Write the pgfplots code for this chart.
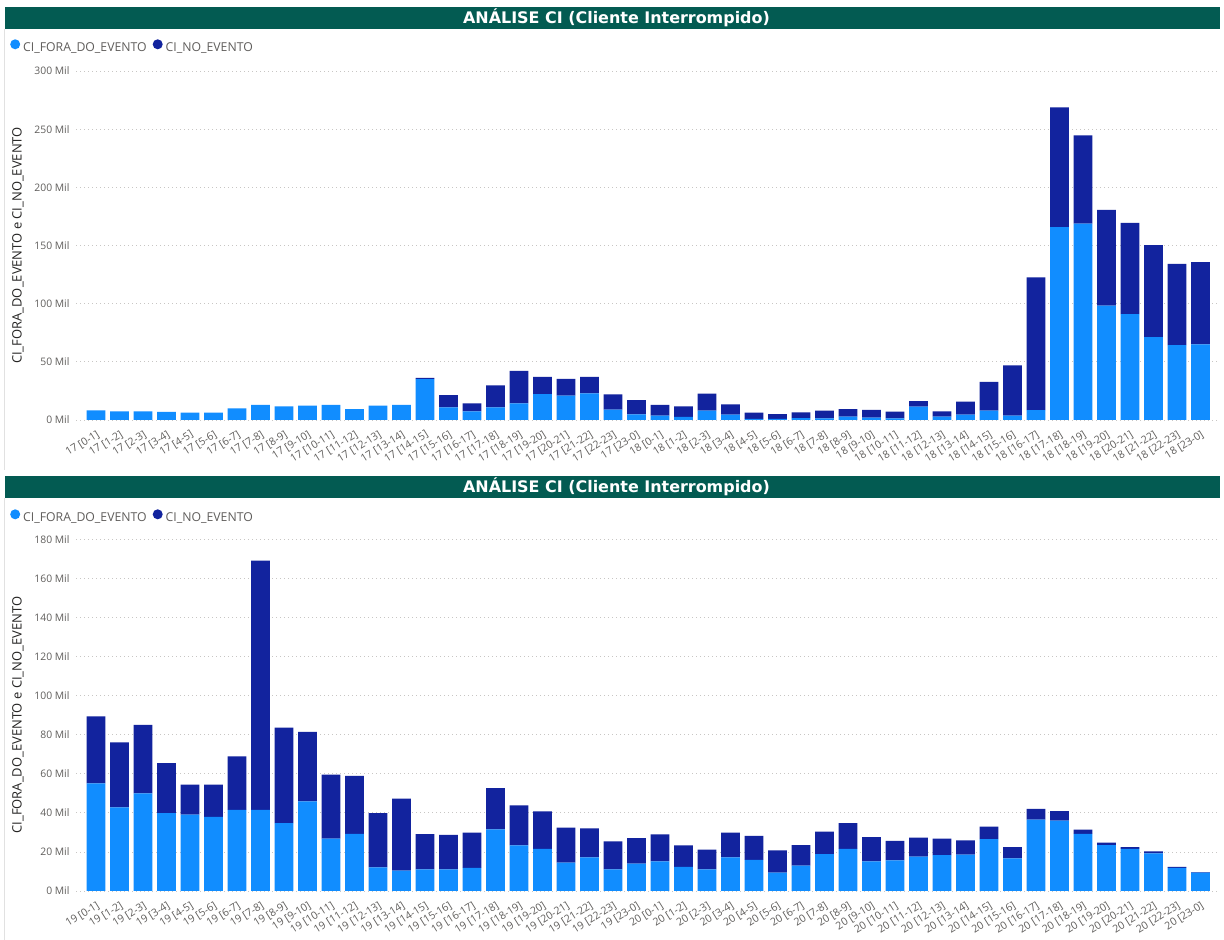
\documentclass[border=0pt]{standalone}
\usepackage{fontspec}
\setmainfont{Open Sans}
\newfontfamily\titlefont{DejaVu Sans}
\usepackage{pgfplots}
\usepackage{pgfplotstable}
\pgfplotsset{compat=1.18}
\definecolor{cfora}{HTML}{118DFF}
\definecolor{cno}{HTML}{12239E}
\definecolor{tgreen}{HTML}{035B52}
\definecolor{tickc}{HTML}{605E5C}
\definecolor{labc}{HTML}{252423}
\definecolor{gridc}{HTML}{C8C6C4}
\definecolor{framec}{HTML}{E1E1E1}

\pgfplotstableread{
x fora no
0 8.3 0
1 7.5 0
2 7.5 0
3 6.9 0
4 6.3 0
5 6.3 0
6 10.0 0
7 12.9 0
8 11.7 0
9 12.3 0
10 12.9 0
11 9.4 0
12 12.3 0
13 13.1 0
14 35.1 1.2
15 10.9 10.5
16 7.4 6.9
17 10.9 18.8
18 14.3 28.0
19 22.3 14.8
20 20.9 14.5
21 22.9 14.2
22 8.9 13.1
23 4.9 12.2
24 3.7 9.4
25 2.6 9.1
26 8.0 14.6
27 4.6 8.8
28 0.9 5.4
29 0.9 4.2
30 1.7 4.9
31 1.4 6.6
32 2.8 6.6
33 2.0 6.8
34 1.4 5.7
35 11.4 4.8
36 2.8 4.6
37 4.6 11.1
38 8.0 24.8
39 3.7 43.3
40 8.5 114.0
41 165.8 102.9
42 168.7 76.0
43 98.3 82.3
44 90.9 78.6
45 71.2 79.2
46 64.4 69.8
47 65.0 70.6
}\topdata

\pgfplotstableread{
x fora no
0 55.1 34.3
1 42.8 33.3
2 50.0 35.0
3 39.8 25.7
4 39.1 15.3
5 37.9 16.5
6 41.5 27.4
7 41.5 127.6
8 34.8 48.8
9 45.9 35.5
10 26.8 32.7
11 29.2 29.7
12 12.1 27.7
13 10.4 36.9
14 11.1 18.0
15 11.1 17.6
16 11.8 18.1
17 31.6 21.0
18 23.4 20.4
19 21.5 19.3
20 14.5 17.9
21 17.2 14.9
22 11.1 14.3
23 14.0 13.0
24 15.2 13.8
25 12.3 11.1
26 11.1 10.1
27 17.2 12.7
28 15.9 12.3
29 9.4 11.4
30 13.0 10.5
31 18.9 11.5
32 21.5 13.3
33 15.2 12.4
34 15.7 9.9
35 17.6 9.7
36 18.4 8.4
37 18.6 7.3
38 26.6 6.3
39 16.7 5.8
40 36.5 5.5
41 36.0 4.9
42 29.3 2.1
43 23.5 1.2
44 21.5 1.0
45 19.3 1.0
46 11.8 0.5
47 9.4 0.3
}\botdata

\pgfplotsset{
  pbi/.style={
    scale only axis,
    width=1142bp,
    xmin=-0.85, xmax=47.75,
    ymin=0,
    ybar stacked,
    bar width=0.8,
    axis line style={draw=none},
    major tick length=0pt,
    ymajorgrids,
    major grid style={gridc, line width=0.8bp, dash pattern=on 1bp off 3bp},
    xtick={0,...,47},
    /pgf/number format/assume math mode=true,
    yticklabel={\pgfmathprintnumber{\tick} Mil},
    yticklabel style={font=\fontsize{10.4}{12}\selectfont, text=tickc, xshift=-3bp},
    xticklabel style={font=\fontsize{10.6}{12}\selectfont, text=tickc, rotate=32, anchor=north east, inner sep=0bp, yshift=-8bp, xshift=-5bp},
    ylabel={CI\_FORA\_DO\_EVENTO e CI\_NO\_EVENTO},
    ylabel style={font=\fontsize{13}{15}\selectfont, text=labc, at={(axis description cs:-0.0508,0.5)}, anchor=center},
    legend style={draw=none, fill=none, font=\fontsize{12.3}{14}\selectfont, text=tickc, legend columns=-1, inner sep=0pt,
      /tikz/every odd column/.append style={column sep=1bp},
      /tikz/every even column/.append style={column sep=4bp}},
    legend cell align=left,
  }
}

\begin{document}
\begin{tikzpicture}
\useasboundingbox (0,0) rectangle (1224bp,940bp);
\fill[white] (0,0) rectangle (1224bp,940bp);
% frame lines
\draw[framec, line width=1bp] (4bp,470bp) -- (4bp,911bp);
\draw[framec, line width=1bp] (4bp,0bp) -- (4bp,442bp);
% title bars
\fill[tgreen] (5bp,911bp) rectangle (1220bp,933bp);
\node[font=\titlefont\bfseries\fontsize{16}{18}\selectfont, text=white] at (616.5bp,922bp) {ANÁLISE CI (Cliente Interrompido)};
\fill[tgreen] (5bp,442bp) rectangle (1220bp,464bp);
\node[font=\titlefont\bfseries\fontsize{16}{18}\selectfont, text=white] at (616.5bp,453bp) {ANÁLISE CI (Cliente Interrompido)};

\begin{axis}[pbi,
  at={(76bp,520bp)}, anchor=south west,
  height=349bp, ymax=300, ytick={0,50,...,300},
  xticklabels={17 [0-1],17 [1-2],17 [2-3],17 [3-4],17 [4-5],17 [5-6],17 [6-7],17 [7-8],17 [8-9],17 [9-10],17 [10-11],17 [11-12],17 [12-13],17 [13-14],17 [14-15],17 [15-16],17 [16-17],17 [17-18],17 [18-19],17 [19-20],17 [20-21],17 [21-22],17 [22-23],17 [23-0],18 [0-1],18 [1-2],18 [2-3],18 [3-4],18 [4-5],18 [5-6],18 [6-7],18 [7-8],18 [8-9],18 [9-10],18 [10-11],18 [11-12],18 [12-13],18 [13-14],18 [14-15],18 [15-16],18 [16-17],18 [17-18],18 [18-19],18 [19-20],18 [20-21],18 [21-22],18 [22-23],18 [23-0]},
  legend style={at={(axis description cs:-0.0578,1.0688)}, anchor=west},
]
\addplot[fill=cfora, draw=none, legend image code/.code={\fill[cfora] (0bp,0.6ex) circle (5bp);}] table[x=x, y=fora] {\topdata};
\addlegendentry{CI\_FORA\_DO\_EVENTO}
\addplot[fill=cno, draw=none, legend image code/.code={\fill[cno] (0bp,0.6ex) circle (5bp);}] table[x=x, y=no] {\topdata};
\addlegendentry{CI\_NO\_EVENTO}
\end{axis}

\begin{axis}[pbi,
  at={(76bp,49bp)}, anchor=south west,
  height=351.7bp, ymax=180, ytick={0,20,...,180},
  xticklabels={19 [0-1],19 [1-2],19 [2-3],19 [3-4],19 [4-5],19 [5-6],19 [6-7],19 [7-8],19 [8-9],19 [9-10],19 [10-11],19 [11-12],19 [12-13],19 [13-14],19 [14-15],19 [15-16],19 [16-17],19 [17-18],19 [18-19],19 [19-20],19 [20-21],19 [21-22],19 [22-23],19 [23-0],20 [0-1],20 [1-2],20 [2-3],20 [3-4],20 [4-5],20 [5-6],20 [6-7],20 [7-8],20 [8-9],20 [9-10],20 [10-11],20 [11-12],20 [12-13],20 [13-14],20 [14-15],20 [15-16],20 [16-17],20 [17-18],20 [18-19],20 [19-20],20 [20-21],20 [21-22],20 [22-23],20 [23-0]},
  legend style={at={(axis description cs:-0.0578,1.0634)}, anchor=west},
]
\addplot[fill=cfora, draw=none, legend image code/.code={\fill[cfora] (0bp,0.6ex) circle (5bp);}] table[x=x, y=fora] {\botdata};
\addlegendentry{CI\_FORA\_DO\_EVENTO}
\addplot[fill=cno, draw=none, legend image code/.code={\fill[cno] (0bp,0.6ex) circle (5bp);}] table[x=x, y=no] {\botdata};
\addlegendentry{CI\_NO\_EVENTO}
\end{axis}
\end{tikzpicture}
\end{document}
